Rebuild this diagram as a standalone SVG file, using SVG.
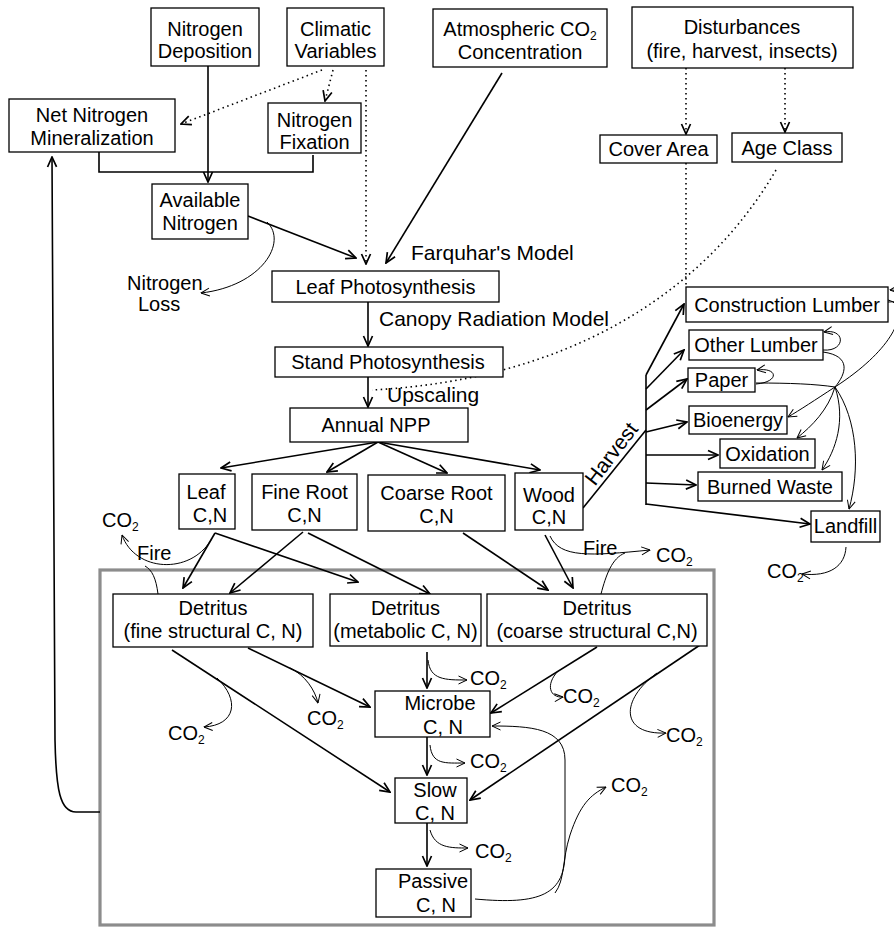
<svg xmlns="http://www.w3.org/2000/svg" width="894" height="929" viewBox="0 0 894 929">
<style>
text{font-family:"Liberation Sans",Arial,Helvetica,sans-serif;font-size:20px;fill:#000}
.m{text-anchor:middle}
.L{font-size:21px}
.b{fill:#fff;stroke:#000;stroke-width:1.3}
.c{fill:none;stroke:#000;stroke-width:1.6}
.t{fill:none;stroke:#000;stroke-width:1}
.d{fill:none;stroke:#000;stroke-width:1.6;stroke-dasharray:1.5 3.5}
.s{font-size:12px}
</style>
<defs>
<marker id="ah" viewBox="0 0 12 12" refX="11" refY="6" markerWidth="12" markerHeight="12" markerUnits="userSpaceOnUse" orient="auto"><path d="M1,1.5 L11,6 L1,10.5" fill="none" stroke="#000" stroke-width="1.7"/></marker>
<marker id="th" viewBox="0 0 10 10" refX="9.5" refY="5" markerWidth="10" markerHeight="10" markerUnits="userSpaceOnUse" orient="auto"><path d="M1,1 L9.5,5 L1,9" fill="none" stroke="#000" stroke-width="1"/></marker>
</defs>
<rect width="894" height="929" fill="#fff"/>

<g id="soil-pool"><rect x="100" y="570" width="614" height="355" fill="none" stroke="#8c8c8c" stroke-width="3.2"/></g>

<g id="connectors">
<path class="c" d="M208,66 V182" marker-end="url(#ah)"/>
<path class="d" d="M322,70 L181,124" marker-end="url(#ah)"/>
<path class="d" d="M333,70 L325,101" marker-end="url(#ah)"/>
<path class="d" d="M366,70 V264" marker-end="url(#ah)"/>
<path class="c" d="M99,152 V172 H313 V155"/>
<path class="c" d="M502,73 L386,263" marker-end="url(#ah)"/>
<path class="c" d="M248,216 L356,258" marker-end="url(#ah)"/>
<path class="t" d="M267,222 C288,242 262,286 201,293" marker-end="url(#th)"/>
<path class="c" d="M368,302 V346" marker-end="url(#ah)"/>
<path class="c" d="M368,377 V407" marker-end="url(#ah)"/>
<path class="d" d="M776,170 C700,300 560,380 372,390"/>
<path class="d" d="M686,163 V285"/>
<path class="d" d="M686,68 V134" marker-end="url(#ah)"/>
<path class="d" d="M785,68 V132" marker-end="url(#ah)"/>
<path class="c" d="M378,442 L221,468" marker-end="url(#ah)"/>
<path class="c" d="M378,442 L327,472" marker-end="url(#ah)"/>
<path class="c" d="M378,442 L447,473" marker-end="url(#ah)"/>
<path class="c" d="M378,442 L540,470" marker-end="url(#ah)"/>
<path class="c" d="M583,508 L646,430"/>
<path class="c" d="M646,375 V505"/>
<path class="c" d="M646,375 L684,304" marker-end="url(#ah)"/>
<path class="c" d="M646,389 L684,350" marker-end="url(#ah)"/>
<path class="c" d="M646,410 L687,379" marker-end="url(#ah)"/>
<path class="c" d="M646,432 L687,422" marker-end="url(#ah)"/>
<path class="c" d="M646,455 L718,455" marker-end="url(#ah)"/>
<path class="c" d="M646,483 L696,485" marker-end="url(#ah)"/>
<path class="c" d="M646,504 L810,524" marker-end="url(#ah)"/>
<path class="t" d="M888,302 C908,302 900,289 890,290" marker-end="url(#th)"/>
<path class="t" d="M888,300 C910,305 900,345 835,387"/>
<path class="t" d="M823,350 C846,352 846,328 824,332" marker-end="url(#th)"/>
<path class="t" d="M756,384 C780,382 778,367 757,370" marker-end="url(#th)"/>
<path class="t" d="M823,352 C852,356 846,374 835,387"/>
<path class="t" d="M756,383 C790,383 815,384 835,387"/>
<path class="t" d="M835,387 C815,400 800,410 788,417" marker-end="url(#th)"/>
<path class="t" d="M835,387 C828,410 812,426 797,438" marker-end="url(#th)"/>
<path class="t" d="M835,387 C846,420 836,450 822,470" marker-end="url(#th)"/>
<path class="t" d="M835,387 C858,420 860,470 849,509" marker-end="url(#th)"/>
<path class="t" d="M846,547 C845,566 830,577 802,574" marker-end="url(#th)"/>
<path class="c" d="M215,533 L183,588" marker-end="url(#ah)"/>
<path class="c" d="M215,533 L358,582" marker-end="url(#ah)"/>
<path class="c" d="M303,532 L230,593" marker-end="url(#ah)"/>
<path class="c" d="M308,533 L430,594" marker-end="url(#ah)"/>
<path class="c" d="M463,533 L548,590" marker-end="url(#ah)"/>
<path class="c" d="M545,535 L573,588" marker-end="url(#ah)"/>
<path class="t" d="M211,540 C190,575 135,572 122,535" marker-end="url(#th)"/>
<path class="t" d="M158,594 C156,578 152,570 145,566"/>
<path class="t" d="M550,536 C560,558 590,556 650,550" marker-end="url(#th)"/>
<path class="t" d="M601,594 C606,575 612,558 625,553"/>
<path class="c" d="M100,812 H76 C60,812 56,790 55,740 L52,157" marker-end="url(#ah)"/>
<path class="c" d="M248,648 L370,707" marker-end="url(#ah)"/>
<path class="c" d="M172,650 L390,792" marker-end="url(#ah)"/>
<path class="t" d="M217,678 C240,700 236,725 204,727" marker-end="url(#th)"/>
<path class="t" d="M290,668 C305,675 315,690 318,703" marker-end="url(#th)"/>
<path class="c" d="M427,652 V688" marker-end="url(#ah)"/>
<path class="t" d="M428,660 C430,680 445,680 467,680" marker-end="url(#th)"/>
<path class="c" d="M597,647 L491,713" marker-end="url(#ah)"/>
<path class="t" d="M558,671 C545,685 550,698 563,697" marker-end="url(#th)"/>
<path class="c" d="M700,645 L470,800" marker-end="url(#ah)"/>
<path class="t" d="M657,673 C620,700 620,735 666,733" marker-end="url(#th)"/>
<path class="c" d="M427,737 V775" marker-end="url(#ah)"/>
<path class="t" d="M430,745 C432,765 445,763 465,763" marker-end="url(#th)"/>
<path class="c" d="M427,823 V866" marker-end="url(#ah)"/>
<path class="t" d="M430,830 C435,848 450,848 468,848" marker-end="url(#th)"/>
<path class="t" d="M475,899 C540,905 566,895 565,850 L565,760 C565,728 530,726 492,726" marker-end="url(#th)"/>
<path class="t" d="M555,893 C565,880 562,860 570,835 C580,805 590,795 606,787" marker-end="url(#th)"/>
</g>

<g id="labels">
<text class="L" x="411" y="260">Farquhar's Model</text>
<text class="L" x="379" y="326">Canopy Radiation Model</text>
<text class="L" x="387" y="402">Upscaling</text>
<text class="m L" transform="translate(617,458) rotate(-52.4)">Harvest</text>
<text x="127" y="290">Nitrogen</text>
<text x="138" y="311">Loss</text>
<text x="137" y="560">Fire</text>
<text x="583" y="555">Fire</text>
<text x="102" y="527">CO<tspan class="s" dy="4">2</tspan></text>
<text x="656" y="562">CO<tspan class="s" dy="4">2</tspan></text>
<text x="767" y="578">CO<tspan class="s" dy="4">2</tspan></text>
<text x="168" y="740">CO<tspan class="s" dy="4">2</tspan></text>
<text x="307" y="725">CO<tspan class="s" dy="4">2</tspan></text>
<text x="470" y="685">CO<tspan class="s" dy="4">2</tspan></text>
<text x="563" y="703">CO<tspan class="s" dy="4">2</tspan></text>
<text x="666" y="742">CO<tspan class="s" dy="4">2</tspan></text>
<text x="470" y="768">CO<tspan class="s" dy="4">2</tspan></text>
<text x="611" y="792">CO<tspan class="s" dy="4">2</tspan></text>
<text x="475" y="858">CO<tspan class="s" dy="4">2</tspan></text>
</g>

<g id="nitrogen-deposition"><rect class="b" x="151" y="8" width="108" height="58"/><text class="m" x="205" y="36">Nitrogen</text><text class="m" x="205" y="58">Deposition</text></g>
<g id="climatic-variables"><rect class="b" x="287" y="8" width="97" height="58"/><text class="m" x="335.5" y="36">Climatic</text><text class="m" x="335.5" y="58">Variables</text></g>
<g id="atmospheric-co2"><rect class="b" x="433" y="9" width="174" height="58"/><text class="m" x="520" y="36">Atmospheric CO<tspan class="s" dy="4">2</tspan></text><text class="m" x="520" y="59">Concentration</text></g>
<g id="disturbances"><rect class="b" x="632" y="7" width="221" height="61"/><text class="m" x="742" y="34">Disturbances</text><text class="m" x="742" y="58">(fire, harvest, insects)</text></g>
<g id="net-n-mineralization"><rect class="b" x="9" y="99" width="166" height="53"/><text class="m" x="92" y="122">Net Nitrogen</text><text class="m" x="92" y="145">Mineralization</text></g>
<g id="nitrogen-fixation"><rect class="b" x="268" y="103" width="93" height="50"/><text class="m" x="314.5" y="127">Nitrogen</text><text class="m" x="314.5" y="149">Fixation</text></g>
<g id="available-nitrogen"><rect class="b" x="152" y="184" width="96" height="55"/><text class="m" x="200" y="207">Available</text><text class="m" x="200" y="230">Nitrogen</text></g>
<g id="cover-area"><rect class="b" x="600" y="135" width="117" height="28"/><text class="m" x="658.5" y="156">Cover Area</text></g>
<g id="age-class"><rect class="b" x="732" y="133" width="110" height="29"/><text class="m" x="787" y="155">Age Class</text></g>
<g id="leaf-photosynthesis"><rect class="b" x="272" y="271" width="227" height="31"/><text class="m" x="385.5" y="294">Leaf Photosynthesis</text></g>
<g id="stand-photosynthesis"><rect class="b" x="275" y="347" width="228" height="30"/><text class="m" x="388" y="369">Stand Photosynthesis</text></g>
<g id="annual-npp"><rect class="b" x="290" y="408" width="178" height="34"/><text class="m" x="376" y="432">Annual NPP</text></g>
<g id="leaf"><rect class="b" x="179" y="474" width="56" height="55"/><text class="m" x="206" y="499">Leaf</text><text class="m" x="210" y="522">C,N</text></g>
<g id="fine-root"><rect class="b" x="252" y="474" width="105" height="56"/><text class="m" x="304.5" y="499">Fine Root</text><text class="m" x="304.5" y="522">C,N</text></g>
<g id="coarse-root"><rect class="b" x="368" y="475" width="137" height="56"/><text class="m" x="436.5" y="500">Coarse Root</text><text class="m" x="436.5" y="523">C,N</text></g>
<g id="wood"><rect class="b" x="515" y="473" width="68" height="57"/><text class="m" x="549" y="502">Wood</text><text class="m" x="549" y="524">C,N</text></g>
<g id="construction-lumber"><rect class="b" x="686" y="287" width="202" height="35"/><text class="m" x="787" y="312">Construction Lumber</text></g>
<g id="other-lumber"><rect class="b" x="689" y="330" width="134" height="30"/><text class="m" x="756" y="352">Other Lumber</text></g>
<g id="paper"><rect class="b" x="688" y="368" width="67" height="24"/><text class="m" x="721.5" y="387">Paper</text></g>
<g id="bioenergy"><rect class="b" x="689" y="406" width="98" height="28"/><text class="m" x="738" y="427">Bioenergy</text></g>
<g id="oxidation"><rect class="b" x="720" y="439" width="95" height="29"/><text class="m" x="767.5" y="461">Oxidation</text></g>
<g id="burned-waste"><rect class="b" x="698" y="472" width="144" height="29"/><text class="m" x="770" y="494">Burned Waste</text></g>
<g id="landfill"><rect class="b" x="811" y="511" width="69" height="31"/><text class="m" x="845.5" y="533">Landfill</text></g>
<g id="detritus-fine"><rect class="b" x="113" y="594" width="200" height="53"/><text class="m" x="213" y="615">Detritus</text><text class="m" x="213" y="638">(fine structural C, N)</text></g>
<g id="detritus-metabolic"><rect class="b" x="330" y="594" width="151" height="52"/><text class="m" x="405.5" y="615">Detritus</text><text class="m" x="405.5" y="638">(metabolic C, N)</text></g>
<g id="detritus-coarse"><rect class="b" x="487" y="594" width="220" height="52"/><text class="m" x="597" y="615">Detritus</text><text class="m" x="597" y="638">(coarse structural C,N)</text></g>
<g id="microbe"><rect class="b" x="375" y="691" width="115" height="46"/><text class="m" x="440" y="710">Microbe</text><text class="m" x="443" y="734">C, N</text></g>
<g id="slow"><rect class="b" x="395" y="778" width="72" height="45"/><text class="m" x="435" y="797">Slow</text><text class="m" x="435" y="820">C, N</text></g>
<g id="passive"><rect class="b" x="376" y="869" width="95" height="48"/><text class="m" x="433" y="888">Passive</text><text class="m" x="436" y="912">C, N</text></g>
</svg>
